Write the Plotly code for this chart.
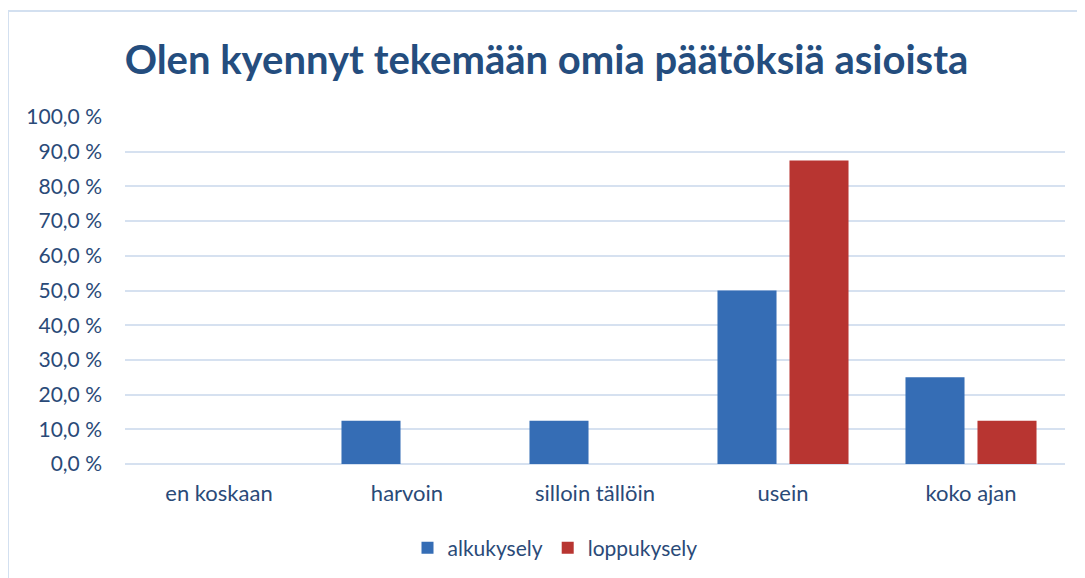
import plotly.graph_objects as go

categories = ["en koskaan", "harvoin", "silloin tällöin", "usein", "koko ajan"]
alkukysely = [0.0, 12.5, 12.5, 50.0, 25.0]
loppukysely = [0.0, 0.0, 0.0, 87.5, 12.5]
tick_values = [0, 10, 20, 30, 40, 50, 60, 70, 80, 90, 100]
tick_labels = ["0,0 %", "10,0 %", "20,0 %", "30,0 %", "40,0 %", "50,0 %",
               "60,0 %", "70,0 %", "80,0 %", "90,0 %", "100,0 %"]

text_color = "#2a4a78"
font_family = "Lato, 'Open Sans', sans-serif"

# page has an 8px body margin; work in figure coordinates
OFF = 8
W, H = 1085 - OFF, 578 - OFF
L, T = 125 - OFF, 117 - OFF
R = W - (1065 - OFF)
B = H - (464 - OFF)
pw, ph = W - L - R, H - T - B

fig = go.Figure()
fig.add_trace(go.Bar(name="alkukysely", x=categories, y=alkukysely,
                     marker=dict(color="#356db5", line=dict(width=0))))
fig.add_trace(go.Bar(name="loppukysely", x=categories, y=loppukysely,
                     marker=dict(color="#b83531", line=dict(width=0))))

fig.update_layout(
    width=W, height=H,
    paper_bgcolor="white", plot_bgcolor="white",
    barmode="group", bargap=0.234, bargroupgap=0.18,
    margin=dict(l=L, r=R, t=T, b=B, autoexpand=False),
    font=dict(family=font_family, color=text_color, size=21),
    title=dict(text="<b>Olen kyennyt tekemään omia päätöksiä asioista</b>",
               x=0.5, xanchor="center", y=1 - (60 - OFF) / H, yanchor="middle",
               font=dict(size=40, color="#244d7e", family=font_family)),
    showlegend=True,
    legend=dict(orientation="h", xref="container", x=(555 - OFF) / W, xanchor="center",
                yref="container", y=1 - (548 - OFF) / H, yanchor="middle",
                font=dict(size=21, color=text_color), itemwidth=30,
                traceorder="normal"),
    xaxis=dict(showgrid=False, showline=False, ticks="", automargin=False,
               ticklabelstandoff=14,
               tickfont=dict(size=22, color=text_color)),
    yaxis=dict(range=[0, 100], tickvals=tick_values, ticktext=tick_labels,
               showgrid=True, gridcolor="#d6e1f0", gridwidth=2,
               zeroline=True, zerolinecolor="#d6e1f0", zerolinewidth=2,
               showline=False, ticks="", ticklabelstandoff=22, automargin=False,
               tickfont=dict(size=21, color=text_color)),
    shapes=[dict(type="rect", xref="paper", yref="paper",
                 x0=(8 - OFF - L) / pw, x1=(1080 - OFF - L) / pw,
                 y0=-(H + 10 - T - ph) / ph, y1=(T + ph - (11 - OFF)) / ph,
                 line=dict(color="#d3e0f0", width=2), fillcolor="rgba(0,0,0,0)",
                 layer="below")],
)

fig.write_html("out.html")
